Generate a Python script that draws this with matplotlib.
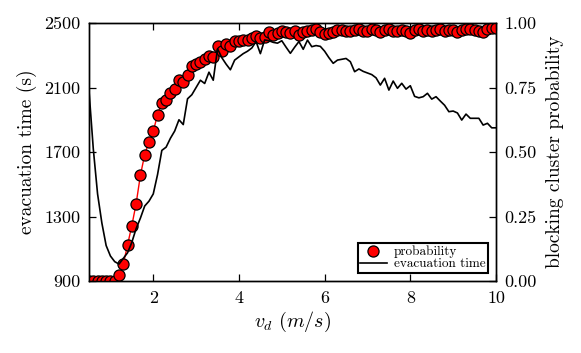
import numpy as np
import matplotlib
matplotlib.use("Agg")
import matplotlib.pyplot as plt
from matplotlib.lines import Line2D

plt.rcParams['font.family'] = 'cmr10'
plt.rcParams['mathtext.fontset'] = 'cm'
plt.rcParams['axes.formatter.use_mathtext'] = True

# drift velocity grid (m/s)
v_d = np.round(np.linspace(0.5, 10.0, 96), 2)

evac_time = [
    2080, 1720, 1440, 1260, 1120, 1055, 1020, 1005, 1040, 1075,
    1140, 1225, 1290, 1365, 1395, 1440, 1560, 1710, 1730, 1785,
    1830, 1900, 1870, 2030, 2055, 2100, 2145, 2125, 2195, 2145,
    2340, 2285, 2245, 2210, 2270, 2290, 2310, 2325, 2345, 2385,
    2310, 2395, 2390, 2380, 2375, 2390, 2350, 2312, 2350, 2385,
    2337, 2394, 2353, 2360, 2355, 2325, 2285, 2250, 2270, 2275,
    2280, 2260, 2198, 2215, 2200, 2190, 2180, 2160, 2115, 2157,
    2084, 2140, 2095, 2126, 2090, 2111, 2045, 2036, 2043, 2064,
    2028, 2043, 2016, 1990, 1950, 1954, 1942, 1898, 1935, 1909,
    1909, 1909, 1867, 1878, 1850, 1850,
]

probability = [
    0.0, 0.0, 0.0, 0.0, 0.0, 0.0, 0.0, 0.025, 0.065, 0.14,
    0.215, 0.30, 0.41, 0.49, 0.54, 0.58, 0.645, 0.69, 0.70, 0.73,
    0.745, 0.78, 0.77, 0.80, 0.835, 0.84, 0.85, 0.86, 0.873, 0.87,
    0.91, 0.89, 0.92, 0.91, 0.93, 0.93, 0.935, 0.935, 0.94, 0.95,
    0.94, 0.947, 0.966, 0.953, 0.96, 0.97, 0.966, 0.962, 0.97, 0.955,
    0.966, 0.97, 0.974, 0.976, 0.966, 0.958, 0.96, 0.966, 0.972, 0.973,
    0.968, 0.97, 0.972, 0.975, 0.968, 0.97, 0.975, 0.972, 0.965, 0.972,
    0.975, 0.97, 0.968, 0.974, 0.97, 0.962, 0.972, 0.975, 0.97, 0.973,
    0.968, 0.972, 0.975, 0.97, 0.974, 0.972, 0.965, 0.973, 0.975, 0.976,
    0.972, 0.97, 0.965, 0.978, 0.98, 0.98,
]

left_ticks = [900, 1300, 1700, 2100, 2500]
right_ticks = [0.0, 0.25, 0.5, 0.75, 1.0]
x_ticks = [2, 4, 6, 8, 10]

fig = plt.figure(figsize=(5.81, 3.53), dpi=100)
ax1 = fig.add_axes([89/581, 1 - 281/353, (496-89)/581, (281-23)/353])
ax2 = ax1.twinx()
ax1.set_zorder(ax2.get_zorder() + 1)
ax1.patch.set_visible(False)

MS = 8.0
ax2.plot(v_d, probability, color='red', lw=1.0, zorder=2)
ax2.plot(v_d, probability, linestyle='none', marker='o', ms=MS,
         mfc='red', mec='black', mew=0.9, zorder=3)
ax1.plot(v_d, evac_time, color='black', lw=1.2, zorder=4)

ax1.set_xlim(0.5, 10)
ax1.set_ylim(900, 2500)
ax2.set_ylim(0, 1)
ax1.set_xticks(x_ticks)
ax1.set_yticks(left_ticks)
ax2.set_yticks(right_ticks)
ax1.set_xticklabels([str(t) for t in x_ticks])
ax1.set_yticklabels([str(t) for t in left_ticks])
ax2.set_yticklabels(['%.2f' % t for t in right_ticks])

for ax in (ax1, ax2):
    for s in ax.spines.values():
        s.set_linewidth(1.0)
ax1.tick_params(axis='x', direction='in', top=True, length=5, width=0.9,
                labelsize=13, pad=7)
ax1.tick_params(axis='y', direction='in', right=False, length=5, width=0.9,
                labelsize=13, pad=6)
ax2.tick_params(axis='y', direction='in', length=5, width=0.9,
                labelsize=13, pad=6)

ax1.set_xlabel(r'$v_d\ (m/s)$', fontsize=14.5, labelpad=3)
ax1.set_ylabel('evacuation time (s)', fontsize=14, labelpad=5)
ax2.set_ylabel('blocking cluster probability', fontsize=14, labelpad=7)

handles = [
    Line2D([], [], linestyle='none', marker='o', ms=MS, mfc='red',
           mec='black', mew=0.9),
    Line2D([], [], color='black', lw=1.2),
]
leg = ax1.legend(handles, ['probability', 'evacuation time'],
                 loc='lower right', fontsize=9.5, frameon=True, fancybox=False,
                 borderpad=0.2, labelspacing=0.0, handlelength=2.0,
                 handletextpad=0.55, borderaxespad=0.6, framealpha=1)
leg.get_frame().set_edgecolor('black')
leg.get_frame().set_linewidth(1.5)

fig.savefig('out.png', dpi=100)
